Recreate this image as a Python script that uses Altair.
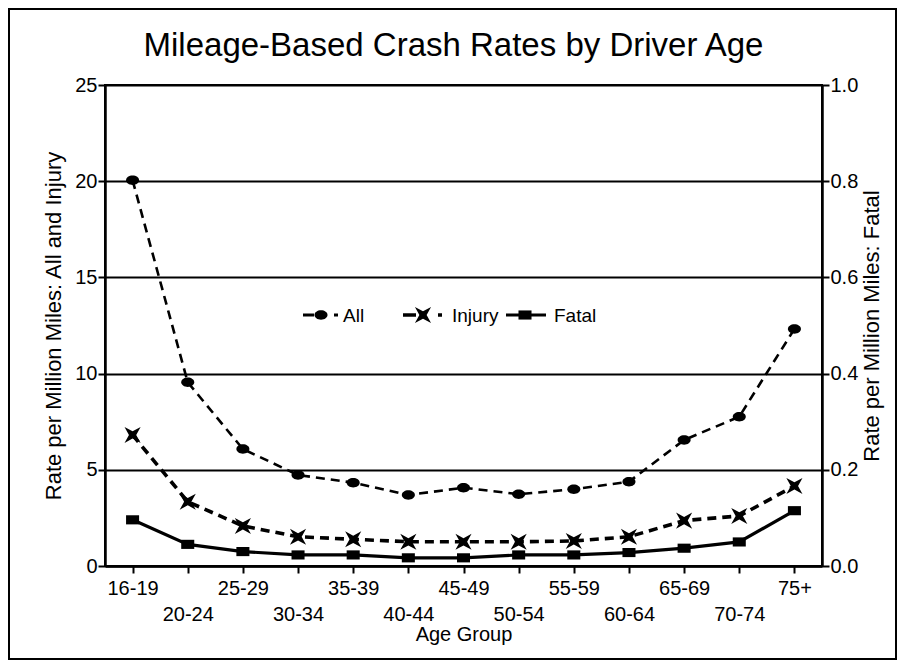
import json
import altair as alt
import pandas as pd

# ---------------- data ----------------
ages = ["16-19", "20-24", "25-29", "30-34", "35-39", "40-44", "45-49",
        "50-54", "55-59", "60-64", "65-69", "70-74", "75+"]
all_rate = [20.05, 9.55, 6.08, 4.73, 4.33, 3.69, 4.07, 3.73, 3.99, 4.38, 6.55, 7.76, 12.32]
injury_rate = [6.81, 3.34, 2.08, 1.52, 1.39, 1.26, 1.26, 1.26, 1.30, 1.52, 2.36, 2.60, 4.16]
fatal_rate = [0.096, 0.045, 0.030, 0.023, 0.023, 0.017, 0.017, 0.023, 0.023, 0.028, 0.037, 0.050, 0.115]

left_ticks = [0, 5, 10, 15, 20, 25]
right_ticks = [0.0, 0.2, 0.4, 0.6, 0.8, 1.0]
series_names = ["All", "Injury", "Fatal"]

title_text = "Mileage-Based Crash Rates by Driver Age"
x_title = "Age Group"
left_title = "Rate per Million Miles:  All and Injury"
right_title = "Rate per Million Miles:  Fatal"

df = pd.DataFrame({"age": ages, "All": all_rate, "Injury": injury_rate, "Fatal": fatal_rate})
one = pd.DataFrame({"k": [0]})

# ---------------- layout / style ----------------
W, H = 717, 481
FONT = "Liberation Sans"
ELLIPSE = "M-1,0A1,0.72 0 1,1 1,0A1,0.72 0 1,1 -1,0Z"
XSTAR = "M-1,-1L0,-0.45L1,-1L0.45,0L1,1L0,0.45L-1,1L-0.45,0Z"
RECT = "M-1,-0.7L1,-0.7L1,0.7L-1,0.7Z"

second_row = ages[1::2]
label_expr = ("indexof(" + json.dumps(second_row) +
              ", datum.label) >= 0 ? ['', datum.label] : datum.label")

x_enc = alt.X(
    "age:N", sort=ages,
    scale=alt.Scale(type="point", padding=0.5),
    axis=alt.Axis(title=x_title, labelAngle=0, labelExpr=label_expr,
                  labelLineHeight=26, labelOverlap=False, tickSize=7,
                  labelPadding=5, labelFontSize=20, titleFontSize=20,
                  titleY=58, titleBaseline="top"),
)

left_axis = alt.Axis(title=left_title, orient="left", values=left_ticks,
                     grid=True, gridColor="black", gridWidth=2, gridOpacity=1,
                     tickSize=7, labelPadding=1, titlePadding=9,
                     labelFontSize=20, titleFontSize=22)
left_scale = alt.Scale(domain=[0, 25], nice=False, zero=True)

right_axis = alt.Axis(title=right_title, orient="right", values=right_ticks,
                      format=".1f", grid=False, tickSize=7, labelPadding=1,
                      titlePadding=4, titleAngle=270, titleBaseline="top",
                      labelFontSize=20, titleFontSize=22)
right_scale = alt.Scale(domain=[0, 1], nice=False, zero=True)

base = alt.Chart(df)

all_line = base.mark_line(color="black", strokeWidth=2.6, strokeDash=[9, 6]).encode(
    x=x_enc, y=alt.Y("All:Q", scale=left_scale, axis=left_axis))
all_pts = base.mark_point(shape=ELLIPSE, filled=True, size=170, color="black", opacity=1).encode(
    x=x_enc, y=alt.Y("All:Q", scale=left_scale, axis=left_axis))
inj_line = base.mark_line(color="black", strokeWidth=3.6, strokeDash=[9, 6]).encode(
    x=x_enc, y=alt.Y("Injury:Q", scale=left_scale, axis=left_axis))
inj_pts = base.mark_point(shape=XSTAR, filled=True, size=260, color="black", opacity=1).encode(
    x=x_enc, y=alt.Y("Injury:Q", scale=left_scale, axis=left_axis))

left_group = alt.layer(all_line, all_pts, inj_line, inj_pts)

fat_line = base.mark_line(color="black", strokeWidth=3.2).encode(
    x=x_enc, y=alt.Y("Fatal:Q", scale=right_scale, axis=right_axis))
fat_pts = base.mark_point(shape=RECT, filled=True, size=170, color="black", opacity=1).encode(
    x=x_enc, y=alt.Y("Fatal:Q", scale=right_scale, axis=right_axis))
right_group = alt.layer(fat_line, fat_pts)

# ---------------- in-plot legend ----------------
LY = 230
legend_layers = []


def seg(x1, x2, w):
    return alt.Chart(one).mark_rule(color="black", strokeWidth=w).encode(
        x=alt.value(x1), x2=alt.value(x2), y=alt.value(LY))


def marker(xc, shape, size):
    return alt.Chart(one).mark_point(shape=shape, filled=True, size=size,
                                     color="black", opacity=1).encode(
        x=alt.value(xc), y=alt.value(LY))


def label(xl, txt):
    return alt.Chart(one).mark_text(align="left", baseline="middle", fontSize=19,
                                    font=FONT, color="black").encode(
        x=alt.value(xl), y=alt.value(LY + 1), text=alt.value(txt))


legend_layers += [seg(198, 209, 3), marker(216, ELLIPSE, 170), seg(229, 233, 3), label(238, series_names[0])]
legend_layers += [seg(298, 311, 3.5), marker(318, XSTAR, 260), seg(333, 337, 3.5), label(347, series_names[1])]
legend_layers += [seg(401, 441, 3), marker(420, RECT, 170), label(449, series_names[2])]

border = alt.Chart(one).mark_rect(fillOpacity=0, stroke="black", strokeWidth=2).encode(
    x=alt.value(-96), x2=alt.value(W + 74), y=alt.value(-76), y2=alt.value(H + 93))

chart = alt.layer(left_group, right_group, *legend_layers, border).resolve_scale(
    y="independent"
).properties(
    width=W, height=H,
    autosize=alt.AutoSizeParams(type="none"),
    padding={"left": 97, "top": 77, "right": 75, "bottom": 94},
    title=alt.TitleParams(title_text, fontSize=33, font=FONT, fontWeight="normal",
                          anchor="middle", offset=-55, dx=-10, color="black"),
    background="white",
).configure_axis(
    labelFont=FONT, titleFont=FONT, labelColor="black", titleColor="black",
    domainColor="black", tickColor="black", domainWidth=2.5, tickWidth=2,
    titleFontWeight="normal",
).configure_view(stroke="black", strokeWidth=2)

chart.save("out.html", embed_options={"renderer": "svg", "actions": False})
